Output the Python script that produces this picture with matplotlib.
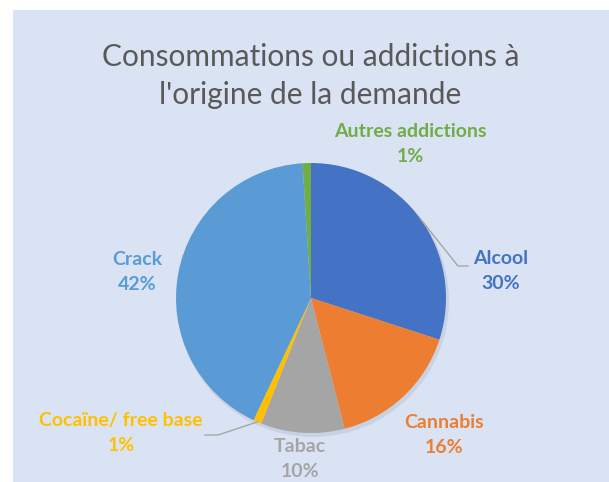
import numpy as np
import matplotlib
matplotlib.use("Agg")
import matplotlib.pyplot as plt
from matplotlib.patches import Rectangle

plt.rcParams['font.family'] = ['Lato', 'DejaVu Sans']

# ---------------- data ----------------
labels = ["Alcool", "Cannabis", "Tabac", "Cocaïne/ free base", "Crack", "Autres addictions"]
values = [30, 16, 10, 1, 42, 1]
colors = ["#4472C4", "#ED7D31", "#A5A5A5", "#FFC000", "#5B9BD5", "#70AD47"]

W, H = 609, 482
fig = plt.figure(figsize=(W / 100, H / 100), dpi=100)
fig.patch.set_facecolor("white")
ax = fig.add_axes([0, 0, 1, 1])
ax.set_xlim(0, W)
ax.set_ylim(0, H)
ax.set_aspect("equal")
ax.axis("off")

# panel background
ax.add_patch(Rectangle((13, 0), W - 13, H - 10, facecolor="#DAE3F3", edgecolor="none", zorder=0))

cx, cy, r = 311, H - 298, 135

# soft shadow
ax.add_patch(plt.Circle((cx + 2, cy - 3), r + 1, color="#b8c2d4", alpha=0.5, zorder=1, lw=0))

wedges, _ = ax.pie(values, colors=colors, startangle=90, counterclock=False,
                   center=(cx, cy), radius=r, wedgeprops=dict(linewidth=0), frame=True)
for w in wedges:
    w.set_zorder(2)
ax.set_xlim(0, W)
ax.set_ylim(0, H)
ax.axis("off")

ax.text(W / 2 + 6, H - 76, "Consommations ou addictions à\nl'origine de la demande",
        ha="center", va="center", fontsize=21.5, color="#595959", linespacing=1.45)

# label positions (x, y in pixels from top-left)
label_pos = {
    "Alcool": (501, 271),
    "Cannabis": (444, 435),
    "Tabac": (300, 459),
    "Cocaïne/ free base": (121, 433),
    "Crack": (137, 272),
    "Autres addictions": (410, 144),
}
for name, val, col in zip(labels, values, colors):
    x, y = label_pos[name]
    ax.text(x, H - y, f"{name}\n{val}%", ha="center", va="center", fontsize=14,
            fontweight="bold", color=col, linespacing=1.55, zorder=5)

# leader lines
cum = np.cumsum([0] + values)
def edge_point(i):
    mid = (cum[i] + cum[i + 1]) / 2 / sum(values) * 360
    a = np.deg2rad(90 - mid)
    return cx + r * np.cos(a), cy + r * np.sin(a)

x0, y0 = edge_point(0)
ax.plot([x0, 458, 468], [y0, H - 266, H - 266], color="#A6A6A6", lw=1, zorder=4)
x0, y0 = edge_point(3)
ax.plot([x0, 218, 205], [y0, H - 435, H - 435], color="#A6A6A6", lw=1, zorder=4)

fig.savefig("out.png", dpi=100, facecolor=fig.get_facecolor())
